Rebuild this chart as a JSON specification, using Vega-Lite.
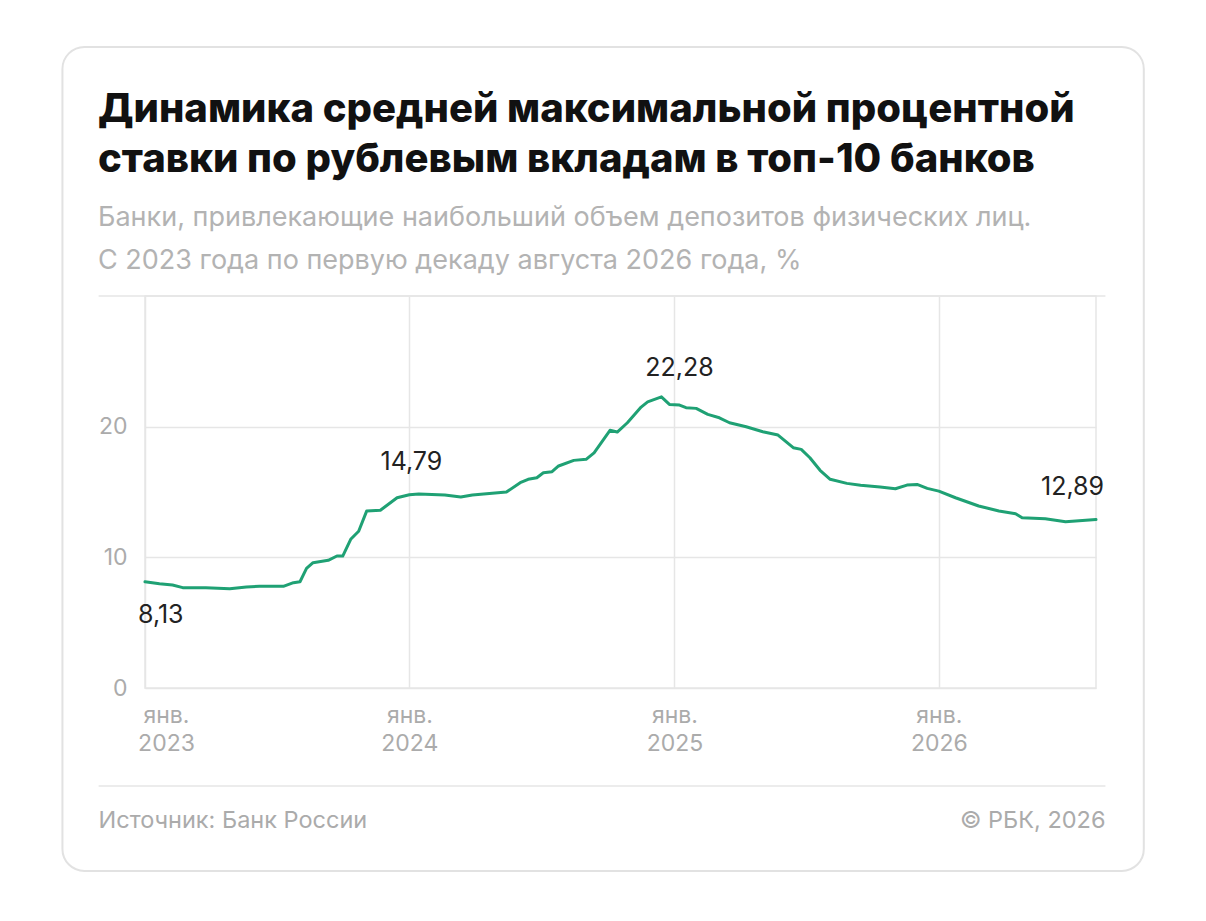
{
  "$schema": "https://vega.github.io/schema/vega-lite/v6.json",
  "width": 951,
  "height": 392,
  "autosize": {"type": "none"},
  "padding": {"left": 145, "top": 296, "right": 110, "bottom": 233},
  "background": "#ffffff",
  "title": {
    "text": ["Динамика средней максимальной процентной", "ставки по рублевым вкладам в топ-10 банков"],
    "subtitle": ["Банки, привлекающие наибольший объем депозитов физических лиц.", "С 2023 года по первую декаду августа 2026 года, %"],
    "anchor": "start",
    "frame": "group",
    "dx": -47,
    "offset": -228,
    "font": "Inter",
    "fontSize": 40,
    "fontWeight": 800,
    "color": "#111111",
    "lineHeight": 50,
    "subtitleFont": "Inter",
    "subtitleFontSize": 27,
    "subtitleColor": "#b3b3b3",
    "subtitleLineHeight": 43,
    "subtitlePadding": 25
  },
  "config": {"view": {"stroke": "#e6e6e6", "strokeWidth": 1.5}, "font": "Inter"},
  "datasets": {
    "rates": [
      {"date": "2023-01-01", "rate": 8.13},
      {"date": "2023-01-21", "rate": 7.98},
      {"date": "2023-02-08", "rate": 7.88},
      {"date": "2023-02-22", "rate": 7.68},
      {"date": "2023-03-26", "rate": 7.68},
      {"date": "2023-04-28", "rate": 7.6},
      {"date": "2023-05-21", "rate": 7.73},
      {"date": "2023-06-08", "rate": 7.78},
      {"date": "2023-07-11", "rate": 7.78},
      {"date": "2023-07-25", "rate": 8.06},
      {"date": "2023-08-03", "rate": 8.13},
      {"date": "2023-08-12", "rate": 9.15},
      {"date": "2023-08-21", "rate": 9.59},
      {"date": "2023-09-11", "rate": 9.77},
      {"date": "2023-09-23", "rate": 10.1},
      {"date": "2023-10-01", "rate": 10.1},
      {"date": "2023-10-12", "rate": 11.38},
      {"date": "2023-10-23", "rate": 12.0},
      {"date": "2023-11-03", "rate": 13.54},
      {"date": "2023-11-22", "rate": 13.6},
      {"date": "2023-12-15", "rate": 14.56},
      {"date": "2024-01-01", "rate": 14.79},
      {"date": "2024-01-14", "rate": 14.85},
      {"date": "2024-02-19", "rate": 14.77},
      {"date": "2024-03-12", "rate": 14.61},
      {"date": "2024-03-28", "rate": 14.77},
      {"date": "2024-05-14", "rate": 15.0},
      {"date": "2024-06-02", "rate": 15.71},
      {"date": "2024-06-13", "rate": 15.97},
      {"date": "2024-06-25", "rate": 16.09},
      {"date": "2024-07-04", "rate": 16.47},
      {"date": "2024-07-16", "rate": 16.55},
      {"date": "2024-07-25", "rate": 16.99},
      {"date": "2024-08-15", "rate": 17.42},
      {"date": "2024-09-01", "rate": 17.5},
      {"date": "2024-09-12", "rate": 18.0},
      {"date": "2024-10-04", "rate": 19.72},
      {"date": "2024-10-14", "rate": 19.59},
      {"date": "2024-10-28", "rate": 20.3},
      {"date": "2024-11-16", "rate": 21.5},
      {"date": "2024-11-25", "rate": 21.9},
      {"date": "2024-12-14", "rate": 22.28},
      {"date": "2024-12-25", "rate": 21.7},
      {"date": "2025-01-08", "rate": 21.65},
      {"date": "2025-01-17", "rate": 21.45},
      {"date": "2025-01-31", "rate": 21.4},
      {"date": "2025-02-16", "rate": 20.94},
      {"date": "2025-03-04", "rate": 20.68},
      {"date": "2025-03-18", "rate": 20.3},
      {"date": "2025-04-10", "rate": 19.99},
      {"date": "2025-05-03", "rate": 19.61},
      {"date": "2025-05-24", "rate": 19.36},
      {"date": "2025-06-14", "rate": 18.39},
      {"date": "2025-06-25", "rate": 18.26},
      {"date": "2025-07-07", "rate": 17.62},
      {"date": "2025-07-21", "rate": 16.66},
      {"date": "2025-08-04", "rate": 15.97},
      {"date": "2025-08-27", "rate": 15.66},
      {"date": "2025-09-15", "rate": 15.51},
      {"date": "2025-10-12", "rate": 15.38},
      {"date": "2025-11-02", "rate": 15.25},
      {"date": "2025-11-18", "rate": 15.53},
      {"date": "2025-12-02", "rate": 15.58},
      {"date": "2025-12-16", "rate": 15.28},
      {"date": "2026-01-01", "rate": 15.07},
      {"date": "2026-01-24", "rate": 14.56},
      {"date": "2026-02-25", "rate": 13.93},
      {"date": "2026-03-25", "rate": 13.54},
      {"date": "2026-04-17", "rate": 13.34},
      {"date": "2026-04-26", "rate": 13.03},
      {"date": "2026-05-28", "rate": 12.95},
      {"date": "2026-06-25", "rate": 12.72},
      {"date": "2026-08-06", "rate": 12.89}
    ],
    "notes": [
      {"date": "2023-01-01", "rate": 8.13, "label": "8,13", "pos": "below"},
      {"date": "2024-01-01", "rate": 14.79, "label": "14,79", "pos": "above"},
      {"date": "2024-12-14", "rate": 22.28, "label": "22,28", "pos": "peak"},
      {"date": "2026-08-06", "rate": 12.89, "label": "12,89", "pos": "end"}
    ]
  },
  "layer": [
    {
      "data": {"values": [{}]},
      "mark": {"type": "rect", "fill": "transparent", "stroke": "#e2e2e2", "strokeWidth": 2, "cornerRadius": 22},
      "encoding": {
        "x": {"datum": {"year": 2022, "month": 9, "date": 9, "utc": true}, "type": "temporal"},
        "x2": {"datum": {"year": 2026, "month": 10, "date": 11, "utc": true}},
        "y": {"datum": 49.06, "type": "quantitative"},
        "y2": {"datum": -14.0}
      }
    },
    {
      "data": {"values": [{}]},
      "mark": {"type": "rule", "stroke": "#e6e6e6", "strokeWidth": 1.5},
      "encoding": {
        "x": {"datum": {"year": 2022, "month": 10, "date": 29, "utc": true}, "type": "temporal"},
        "x2": {"datum": {"year": 2026, "month": 8, "date": 19, "utc": true}},
        "y": {"datum": 30, "type": "quantitative"}
      }
    },
    {
      "data": {"values": [{}]},
      "mark": {"type": "rule", "stroke": "#e6e6e6", "strokeWidth": 1.5},
      "encoding": {
        "x": {"datum": {"year": 2022, "month": 10, "date": 29, "utc": true}, "type": "temporal"},
        "x2": {"datum": {"year": 2026, "month": 8, "date": 19, "utc": true}},
        "y": {"datum": -7.5, "type": "quantitative"}
      }
    },
    {
      "data": {"name": "rates"},
      "mark": {"type": "line", "color": "#1fa174", "strokeWidth": 3, "strokeJoin": "round", "strokeCap": "round"},
      "encoding": {
        "x": {
          "field": "date",
          "type": "temporal",
          "scale": {"type": "utc", "domain": [{"year": 2023, "month": 1, "date": 1, "utc": true}, {"year": 2026, "month": 8, "date": 6, "utc": true}], "nice": false},
          "axis": {
            "values": [
              {"year": 2023, "month": 1, "date": 1, "utc": true},
              {"year": 2024, "month": 1, "date": 1, "utc": true},
              {"year": 2025, "month": 1, "date": 1, "utc": true},
              {"year": 2026, "month": 1, "date": 1, "utc": true}
            ],
            "labelExpr": "['янв.', utcFormat(datum.value, '%Y')]",
            "grid": true,
            "gridColor": "#e6e6e6",
            "gridWidth": 1.5,
            "domain": false,
            "ticks": false,
            "labelPadding": 16,
            "labelFont": "Inter",
            "labelFontSize": 23,
            "labelColor": "#ababab",
            "labelLineHeight": 28,
            "labelFlush": false,
            "labelOverlap": false,
            "labelOffset": {"condition": {"test": "utcyear(datum.value) == 2023", "value": 21}, "value": 0},
            "title": "Источник: Банк России",
            "titleX": -47,
            "titleY": 139,
            "titleAlign": "left",
            "titleAnchor": "start",
            "titleBaseline": "alphabetic",
            "titleAngle": 0,
            "titleFont": "Inter",
            "titleFontSize": 23.5,
            "titleFontWeight": "normal",
            "titleColor": "#ababab"
          }
        },
        "y": {
          "field": "rate",
          "type": "quantitative",
          "scale": {"domain": [0, 30], "nice": false},
          "axis": {
            "values": [0, 10, 20],
            "grid": true,
            "gridColor": "#e6e6e6",
            "gridWidth": 1.5,
            "domain": false,
            "ticks": false,
            "labelPadding": 18,
            "labelFont": "Inter",
            "labelFontSize": 23,
            "labelColor": "#ababab",
            "title": "© РБК, 2026",
            "titleX": 960,
            "titleY": 531,
            "titleAlign": "right",
            "titleBaseline": "alphabetic",
            "titleAngle": 0,
            "titleFont": "Inter",
            "titleFontSize": 23.5,
            "titleFontWeight": "normal",
            "titleColor": "#ababab"
          }
        }
      }
    },
    {
      "data": {"name": "notes"},
      "transform": [{"filter": "datum.pos == 'below'"}],
      "mark": {"type": "text", "align": "left", "baseline": "middle", "dx": -7, "dy": 33, "font": "Inter", "fontSize": 25, "color": "#222222"},
      "encoding": {"x": {"field": "date", "type": "temporal"}, "y": {"field": "rate", "type": "quantitative"}, "text": {"field": "label"}}
    },
    {
      "data": {"name": "notes"},
      "transform": [{"filter": "datum.pos == 'above'"}],
      "mark": {"type": "text", "align": "center", "baseline": "middle", "dx": 2, "dy": -33, "font": "Inter", "fontSize": 25, "color": "#222222"},
      "encoding": {"x": {"field": "date", "type": "temporal"}, "y": {"field": "rate", "type": "quantitative"}, "text": {"field": "label"}}
    },
    {
      "data": {"name": "notes"},
      "transform": [{"filter": "datum.pos == 'peak'"}],
      "mark": {"type": "text", "align": "center", "baseline": "middle", "dx": 18, "dy": -29, "font": "Inter", "fontSize": 25, "color": "#222222"},
      "encoding": {"x": {"field": "date", "type": "temporal"}, "y": {"field": "rate", "type": "quantitative"}, "text": {"field": "label"}}
    },
    {
      "data": {"name": "notes"},
      "transform": [{"filter": "datum.pos == 'end'"}],
      "mark": {"type": "text", "align": "right", "baseline": "middle", "dx": 8, "dy": -33, "font": "Inter", "fontSize": 25, "color": "#222222"},
      "encoding": {"x": {"field": "date", "type": "temporal"}, "y": {"field": "rate", "type": "quantitative"}, "text": {"field": "label"}}
    }
  ]
}
